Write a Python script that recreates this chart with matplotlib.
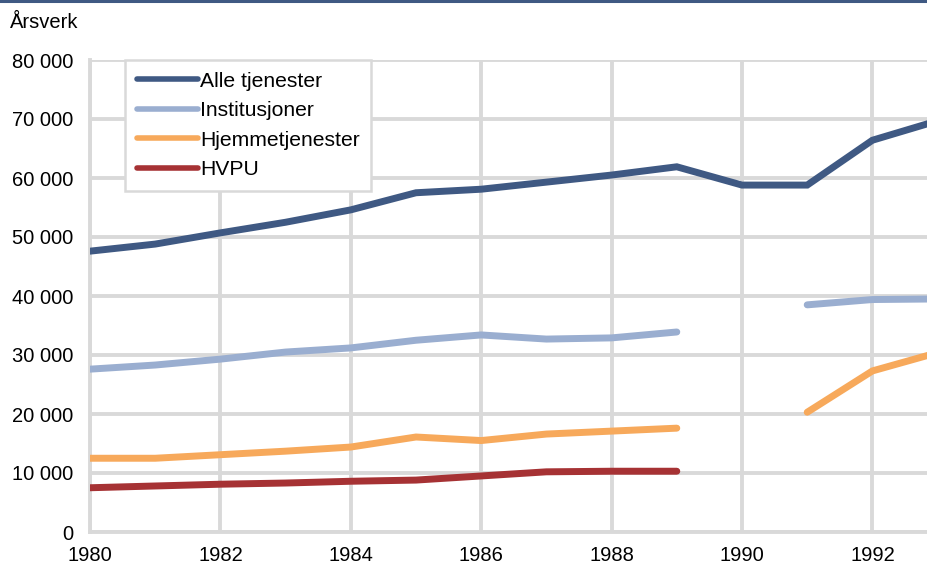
import numpy as np
import matplotlib.pyplot as plt

years = np.arange(1980, 1994)
alle = [47600, 48800, 50700, 52500, 54600, 57500, 58100, 59300, 60500, 61900,
        58800, 58800, 66400, 69700]
institusjoner = [27600, 28300, 29300, 30500, 31200, 32500, 33400, 32700, 32900, 33900,
                 np.nan, 38500, 39400, 39500]
hjemme = [12500, 12500, 13100, 13700, 14400, 16100, 15500, 16600, 17100, 17600,
          np.nan, 20300, 27300, 30400]
hvpu = [7500, 7800, 8100, 8300, 8600, 8800, 9500, 10200, 10300, 10300,
        np.nan, np.nan, np.nan, np.nan]

labels = ['Alle tjenester', 'Institusjoner', 'Hjemmetjenester', 'HVPU']
colors = ['#3f5983', '#9aaed0', '#f7a95b', '#a63234']
grid = '#d9d9d9'

plt.rcParams['font.family'] = ['Liberation Sans', 'DejaVu Sans']
plt.rcParams['font.size'] = 14.5

fig = plt.figure(figsize=(9.28, 5.64), dpi=100)
ax = fig.add_axes([90/928, 32/564, 847.6/928, 472/564])

for vals, lab, c in zip([alle, institusjoner, hjemme, hvpu], labels, colors):
    ax.plot(years, vals, color=c, lw=5, label=lab, solid_capstyle='round',
            solid_joinstyle='miter', zorder=3)

ax.set_xlim(1980, 1993)
ax.set_ylim(0, 80000)
ax.set_xticks(range(1980, 1994, 2))
ax.set_yticks(range(0, 80001, 10000))
ax.set_yticklabels(['0'] + [f'{v // 1000} 000' for v in range(10000, 80001, 10000)])
ax.grid(True, color=grid, lw=2.8, zorder=0)
ax.set_axisbelow(True)
for s in ['top', 'right']:
    ax.spines[s].set_visible(False)
for s in ['left', 'bottom']:
    ax.spines[s].set_color(grid)
    ax.spines[s].set_linewidth(2.8)
ax.tick_params(length=0, labelsize=14.5)
ax.tick_params(axis='y', pad=12)
ax.tick_params(axis='x', pad=10)

leg = ax.legend(loc='upper left', bbox_to_anchor=(35/847.6, 1.0), fancybox=False,
                edgecolor=grid, framealpha=1, fontsize=15.2, handlelength=2.9,
                handletextpad=0.1, labelspacing=0.5, borderpad=0.55,
                borderaxespad=0)
leg.get_frame().set_linewidth(1.8)
for h in leg.get_lines():
    h.set_linewidth(4)

fig.text(10/928, 1 - 22/564, 'Årsverk', fontsize=14.5, va='center', ha='left')
fig.add_artist(plt.Line2D([0, 1], [1 - 1/564, 1 - 1/564], color='#3f5983', lw=2.2,
                          transform=fig.transFigure))

fig.savefig('out.png', dpi=100)
